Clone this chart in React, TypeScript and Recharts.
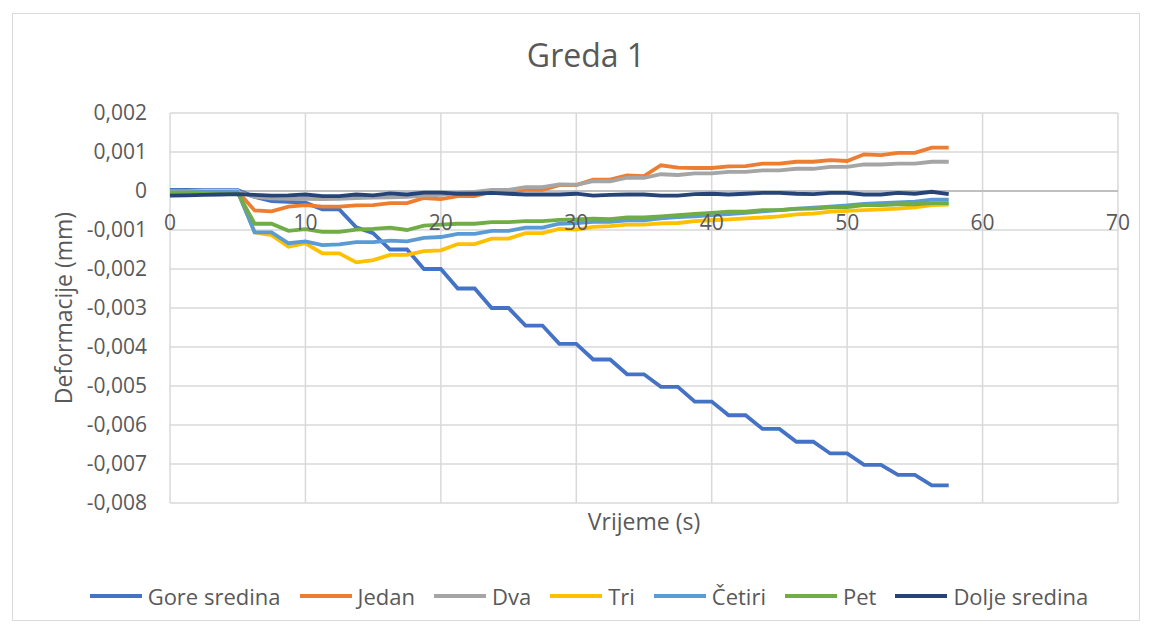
import { LineChart, Line, XAxis, YAxis, CartesianGrid, ReferenceLine } from "recharts";

const VRIJEME = [0, 1.25, 2.5, 3.75, 5, 6.25, 7.5, 8.75, 10, 11.25, 12.5, 13.75, 15, 16.25, 17.5, 18.75, 20, 21.25, 22.5, 23.75, 25, 26.25, 27.5, 28.75, 30, 31.25, 32.5, 33.75, 35, 36.25, 37.5, 38.75, 40, 41.25, 42.5, 43.75, 45, 46.25, 47.5, 48.75, 50, 51.25, 52.5, 53.75, 55, 56.25, 57.5];

const GORE_SREDINA = [0.00003, 0.00003, 0.00002, 0.00002, 0.00002, -0.00015, -0.00026, -0.00028, -0.0003, -0.00047, -0.00047, -0.00093, -0.00108, -0.0015, -0.0015, -0.002, -0.002, -0.0025, -0.0025, -0.003, -0.003, -0.00345, -0.00345, -0.00392, -0.00392, -0.00432, -0.00432, -0.0047, -0.0047, -0.00502, -0.00502, -0.0054, -0.0054, -0.00575, -0.00575, -0.0061, -0.0061, -0.00643, -0.00643, -0.00673, -0.00673, -0.00702, -0.00702, -0.00728, -0.00728, -0.00755, -0.00755];
const JEDAN = [-0.00002, -0.00002, -0.00001, -0.00001, -0.00001, -0.0005, -0.00052, -0.0004, -0.00036, -0.0004, -0.0004, -0.00037, -0.00036, -0.00031, -0.00031, -0.00018, -0.00021, -0.00013, -0.00013, -0.00002, 0, 0.00003, 0.00003, 0.00015, 0.00015, 0.00029, 0.00029, 0.0004, 0.00038, 0.00066, 0.0006, 0.00059, 0.00059, 0.00063, 0.00064, 0.0007, 0.0007, 0.00075, 0.00075, 0.00079, 0.00077, 0.00094, 0.00092, 0.00098, 0.00098, 0.00111, 0.00111];
const DVA = [-0.00003, -0.00003, -0.00002, -0.00002, -0.00002, -0.00015, -0.00019, -0.0002, -0.0002, -0.00021, -0.0002, -0.00018, -0.00017, -0.00016, -0.00015, -0.00012, -0.0001, -0.00005, -0.00002, 0.00003, 0.00003, 0.0001, 0.0001, 0.00017, 0.00016, 0.00025, 0.00025, 0.00034, 0.00034, 0.00043, 0.00041, 0.00045, 0.00045, 0.00049, 0.00049, 0.00053, 0.00053, 0.00057, 0.00057, 0.00062, 0.00062, 0.00068, 0.00068, 0.0007, 0.0007, 0.00075, 0.00075];
const TRI = [-0.00001, -0.00001, 0, 0, 0, -0.00106, -0.00113, -0.00143, -0.00134, -0.0016, -0.0016, -0.00183, -0.00177, -0.00164, -0.00164, -0.00154, -0.00152, -0.00136, -0.00136, -0.00122, -0.00122, -0.00108, -0.00108, -0.00097, -0.00099, -0.00092, -0.0009, -0.00086, -0.00086, -0.00083, -0.00082, -0.00077, -0.00075, -0.00073, -0.0007, -0.00068, -0.00065, -0.0006, -0.00058, -0.00053, -0.00051, -0.00049, -0.00047, -0.00045, -0.00042, -0.00036, -0.00035];
const CETIRI = [-0.00003, -0.00003, -0.00002, -0.00002, -0.00002, -0.00106, -0.00106, -0.00134, -0.00129, -0.00139, -0.00137, -0.00131, -0.00131, -0.00127, -0.00129, -0.0012, -0.00118, -0.0011, -0.0011, -0.00102, -0.00102, -0.00094, -0.00094, -0.00084, -0.00082, -0.00079, -0.00079, -0.00075, -0.00075, -0.0007, -0.00067, -0.00065, -0.00062, -0.00059, -0.00056, -0.00052, -0.00049, -0.00046, -0.00043, -0.0004, -0.00037, -0.00033, -0.00031, -0.00029, -0.00027, -0.00022, -0.00022];
const PET = [-0.00006, -0.00006, -0.00005, -0.00005, -0.00005, -0.00084, -0.00084, -0.00102, -0.00098, -0.00105, -0.00105, -0.00099, -0.00097, -0.00094, -0.001, -0.00089, -0.00086, -0.00084, -0.00084, -0.0008, -0.0008, -0.00077, -0.00077, -0.00074, -0.00073, -0.00071, -0.00072, -0.00068, -0.00068, -0.00065, -0.00062, -0.00059, -0.00056, -0.00053, -0.00053, -0.00049, -0.00049, -0.00045, -0.00045, -0.00042, -0.00041, -0.00036, -0.00036, -0.00034, -0.00034, -0.00031, -0.00031];
const DOLJE_SREDINA = [-0.00012, -0.00011, -0.0001, -0.00009, -0.00008, -0.0001, -0.00012, -0.00011, -0.00009, -0.00013, -0.00013, -0.00009, -0.00011, -0.00006, -0.00009, -0.00004, -0.00004, -0.00007, -0.00007, -0.00005, -0.00007, -0.00009, -0.00009, -0.00009, -0.00007, -0.00012, -0.0001, -0.00009, -0.00009, -0.00012, -0.00012, -0.00008, -0.00007, -0.00009, -0.00007, -0.00005, -0.00005, -0.00007, -0.00008, -0.00005, -0.00005, -0.00009, -0.00009, -0.00005, -0.00007, -0.00002, -0.00008];

const X_TICKS = [0, 10, 20, 30, 40, 50, 60, 70];
const Y_TICKS = [0.002, 0.001, 0, -0.001, -0.002, -0.003, -0.004, -0.005, -0.006, -0.007, -0.008];

const SERIES = [
  { key: "gore", name: "Gore sredina", color: "#4472C4", values: GORE_SREDINA },
  { key: "jedan", name: "Jedan", color: "#ED7D31", values: JEDAN },
  { key: "dva", name: "Dva", color: "#A5A5A5", values: DVA },
  { key: "tri", name: "Tri", color: "#FFC000", values: TRI },
  { key: "cetiri", name: "Četiri", color: "#5B9BD5", values: CETIRI },
  { key: "pet", name: "Pet", color: "#70AD47", values: PET },
  { key: "dolje", name: "Dolje sredina", color: "#264478", values: DOLJE_SREDINA },
];

const FONT = "'Open Sans', 'Noto Sans', sans-serif";
const TXT = "#595959";
const PLOT_TOP = 113;
const PLOT_H = 390;
const ZERO_Y = PLOT_TOP + PLOT_H * 0.2;

const rows = VRIJEME.map((t, i) => {
  const r: Record<string, number> = { t };
  SERIES.forEach(s => { r[s.key] = s.values[i]; });
  return r;
});

function fmtY(v: number) {
  if (v === 0) return "0";
  return v.toFixed(3).replace(".", ",");
}

// Excel puts the category labels right under the zero line
function XTick({ x, payload }: any) {
  return (
    <text x={x} y={ZERO_Y + 39} textAnchor="middle" fill={TXT} fontSize={21} fontFamily={FONT}>
      {payload.value}
    </text>
  );
}

export default function App() {
  return (
    <div style={{ position: "absolute", left: 0, top: 0, width: 1153, height: 626, background: "#fff", fontFamily: FONT }}>
      <div style={{ position: "absolute", left: 12, top: 13, width: 1128, height: 608, border: "1px solid #d9d9d9", boxSizing: "border-box" }} />
      <div style={{ position: "absolute", left: 0, width: 1172, top: 33, textAlign: "center", fontSize: 32, color: TXT }}>Greda 1</div>
      <div style={{ position: "absolute", left: 63, top: 308, transform: "translate(-50%, -50%) rotate(-90deg)", whiteSpace: "nowrap", fontSize: 23, color: TXT }}>
        Deformacije (mm)
      </div>
      <div style={{ position: "absolute", left: 644, top: 521, transform: "translate(-50%, -50%)", whiteSpace: "nowrap", fontSize: 23, color: TXT }}>
        Vrijeme (s)
      </div>
      <div style={{ position: "absolute", left: 0, top: 0 }}>
        <LineChart width={1153} height={626} data={rows} margin={{ top: PLOT_TOP, right: 35, bottom: 93, left: 0 }}>
          <CartesianGrid stroke="#d9d9d9" strokeWidth={1.5} />
          <XAxis dataKey="t" type="number" domain={[0, 70]} ticks={X_TICKS} axisLine={false} tickLine={false} tick={<XTick />} height={30} />
          <YAxis type="number" domain={[-0.008, 0.002]} ticks={Y_TICKS} width={170} axisLine={false} tickLine={false} tickMargin={17}
            tickFormatter={fmtY} tick={{ fill: TXT, fontSize: 21, fontFamily: FONT }} />
          <ReferenceLine y={0} stroke="#bfbfbf" strokeWidth={2} />
          {SERIES.map(s => (
            <Line key={s.key} type="linear" dataKey={s.key} name={s.name} stroke={s.color} strokeWidth={3.8} dot={false} isAnimationActive={false} />
          ))}
        </LineChart>
      </div>
      <div style={{ position: "absolute", left: 0, width: 1178, top: 581, display: "flex", justifyContent: "center", gap: 19, fontSize: 22, color: TXT }}>
        {SERIES.map(s => (
          <div key={s.key} style={{ display: "flex", alignItems: "center", gap: 6 }}>
            <span style={{ display: "inline-block", width: 52, height: 4, background: s.color }} />
            <span>{s.name}</span>
          </div>
        ))}
      </div>
    </div>
  );
}
